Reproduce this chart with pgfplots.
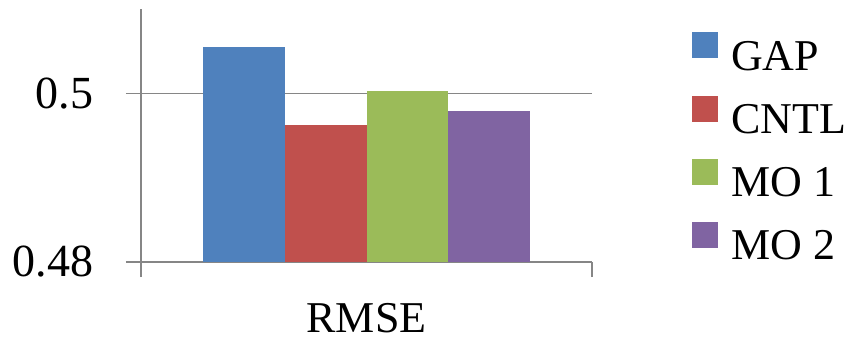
\documentclass[border=0pt]{standalone}
\usepackage{fontspec}
\setmainfont{Liberation Serif}
\usepackage{pgfplots}
\pgfplotsset{compat=1.18}
\definecolor{cGAP}{HTML}{4F81BD}
\definecolor{cCNTL}{HTML}{C0504D}
\definecolor{cMOa}{HTML}{9BBB59}
\definecolor{cMOb}{HTML}{8064A2}
\definecolor{axgray}{HTML}{868686}
\begin{document}
\begin{tikzpicture}
\path[use as bounding box] (-141pt,-79pt) rectangle (705pt,262pt);
\begin{axis}[
  at={(0pt,0pt)}, anchor=south west,
  scale only axis,
  width=451pt, height=253pt,
  xmin=-0.5, xmax=0.5,
  ymin=0.48, ymax=0.51,
  ybar=0pt, bar width=0.1818,
  axis x line*=bottom, axis y line*=left,
  axis line style={axgray, line width=1.2pt},
  xtick={-0.5,0.5}, xticklabels={},
  extra x ticks={0}, extra x tick labels={RMSE},
  extra x tick style={major tick length=0pt, tick label style={inner sep=0pt, yshift=-41pt}},
  ytick={0.48,0.5},
  yticklabel style={/pgf/number format/fixed, /pgf/number format/precision=2, xshift=-29pt, font=\fontsize{46}{52}\selectfont},
  /pgf/number format/assume math mode=true,
  tick align=outside,
  major tick length=15pt,
  tick style={axgray, line width=1.2pt},
  ymajorgrids,
  grid style={axgray, line width=1.2pt},
  tick label style={font=\fontsize{44}{50}\selectfont},
  legend style={at={(rel axis cs:1,1)}, anchor=north west, xshift=100pt, yshift=-23pt,
    draw=none, fill=none, inner sep=0pt, font=\fontsize{44}{50}\selectfont,
    row sep=23pt, nodes={inner sep=1pt},
    /tikz/every odd column/.append style={column sep=12pt}},
  legend cell align=left,
  legend image code/.code={\fill[#1,draw=none] (0pt,-2pt) rectangle (26pt,24pt);},
  clip=false,
]
\addplot[fill=cGAP, draw=none] coordinates {(0,0.5055)};
\addplot[fill=cCNTL, draw=none] coordinates {(0,0.4963)};
\addplot[fill=cMOa, draw=none] coordinates {(0,0.5003)};
\addplot[fill=cMOb, draw=none] coordinates {(0,0.4979)};
\legend{GAP, CNTL, MO 1, MO 2}
\end{axis}
\end{tikzpicture}
\end{document}
